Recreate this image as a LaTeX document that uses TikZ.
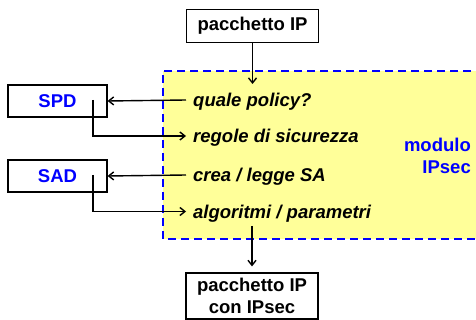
\documentclass[tikz,border=0pt]{standalone}
\usepackage{fontspec}
\setmainfont{Liberation Sans}
\usetikzlibrary{arrows.meta,positioning}
\definecolor{modfill}{RGB}{255,255,153}
\definecolor{modblue}{RGB}{0,0,255}
\newcommand{\bigfont}{\fontsize{18.5}{22}\selectfont}
\tikzset{
  box/.style={draw, line width=1.2pt, font=\bigfont\bfseries, inner sep=0pt, align=center},
  dbbox/.style={box, minimum width=99pt, minimum height=32pt, text=modblue},
  lbl/.style={anchor=west, font=\bigfont\bfseries\itshape, inner xsep=7pt, inner ysep=0pt, text height=13.5pt, text depth=0pt},
  arr/.style={-{Straight Barb[length=5pt,width=8pt]}, line width=1.4pt},
}

\begin{document}
\begin{tikzpicture}[x=1pt,y=-1pt]
%%%%% START %%%%%
\useasboundingbox (0,0) rectangle (476,320);

% modulo IPsec
\fill[modfill] (163,71) rectangle (484,239);
\draw[modblue, line width=2pt, dash pattern=on 8pt off 5pt] (484,71) -- (163,71) -- (163,239) -- (484,239);
\node[anchor=north east, inner sep=0pt, align=right, text=modblue, font=\bigfont\bfseries] (mod) at (471,137.5) {modulo\\IPsec};

\node[box, minimum width=132pt, minimum height=33pt] (pkt) at (252.5,26) {pacchetto IP};
\node[box, minimum width=132pt, minimum height=46pt] (out) at (252,296) {pacchetto IP\\con IPsec};

\node[dbbox] (spd) at (57.5,101) {SPD};
\node[dbbox] (sad) at (57.5,176) {SAD};

\node[lbl] (ask) at (186,100) {quale policy?};
\node[lbl] (rules) at (186,136) {regole di sicurezza};
\node[lbl] (sa) at (186,175) {crea / legge SA};
\node[lbl] (algo) at (186,211.5) {algoritmi / parametri};

\coordinate (in) at (252.5,84);
\coordinate (spdtap) at (93,100);
\coordinate (sadtap) at (93,175);
\coordinate (outtap) at (252,226);

\draw[arr] (pkt) -- (in);
\draw[arr] (ask.west) -- (spd.east);
\draw[arr] (spdtap) |- (rules.west);
\draw[arr] (sa.west) -- (sad.east);
\draw[arr] (sadtap) |- (algo.west);
\draw[arr, shorten >=6pt] (outtap) -- (out.north);
%%%%% END %%%%%
\end{tikzpicture}
\end{document}
